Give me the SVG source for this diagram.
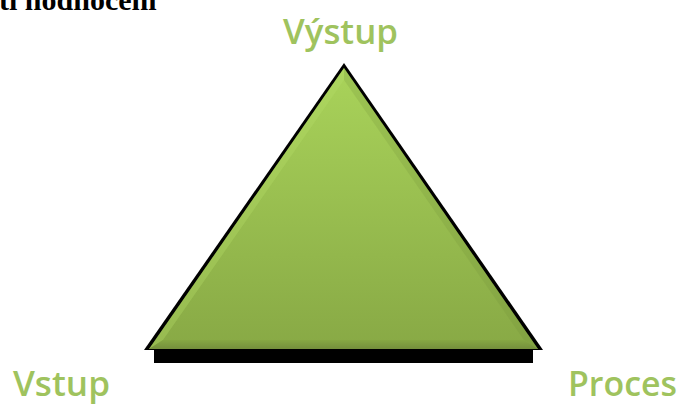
<svg xmlns="http://www.w3.org/2000/svg" width="682" height="405" viewBox="0 0 682 405">
  <style>
    .lbl { font-family: "Open Sans", "Liberation Sans", sans-serif; font-size: 34px; font-weight: 600; fill: #9fc35e; }
    .head { font-family: "Liberation Serif", serif; font-weight: bold; font-size: 30px; fill: #000; }
  </style>
  <defs>
    <linearGradient id="g" x1="0" y1="0" x2="0" y2="1">
      <stop offset="0" stop-color="#a9d35a"/>
      <stop offset="1" stop-color="#88a945"/>
    </linearGradient>
    <linearGradient id="bev" x1="0" y1="0" x2="0" y2="1">
      <stop offset="0" stop-color="#86a843"/>
      <stop offset="1" stop-color="#748f3c"/>
    </linearGradient>
  </defs>
  <rect width="682" height="405" fill="#ffffff"/>
  <text class="head" x="-1" y="10">ti hodnocení</text>
  <g id="triangle">
    <rect x="154" y="350" width="379" height="13" fill="#000"/>
    <polygon points="344,63 144,350 543,350" fill="#000"/>
    <polygon points="344,68 149,349 538,349" fill="url(#g)"/>
    <polygon points="344,68 149,349 163,340 344,80" fill="#b4dc66" opacity="0.35"/>
    <polygon points="344,68 538,349 524,340 344,80" fill="#6f8c35" opacity="0.2"/>
    <polygon points="149,349 538,349 524,340 163,340" fill="url(#bev)"/>
  </g>
  <g id="label-vystup">
    <text class="lbl" x="283" y="44" textLength="115" lengthAdjust="spacingAndGlyphs">Výstup</text>
  </g>
  <g id="label-vstup">
    <text class="lbl" x="13" y="396" textLength="97" lengthAdjust="spacingAndGlyphs">Vstup</text>
  </g>
  <g id="label-proces">
    <text class="lbl" x="568" y="396" textLength="109" lengthAdjust="spacingAndGlyphs">Proces</text>
  </g>
  <g id="connectors"/>
</svg>
